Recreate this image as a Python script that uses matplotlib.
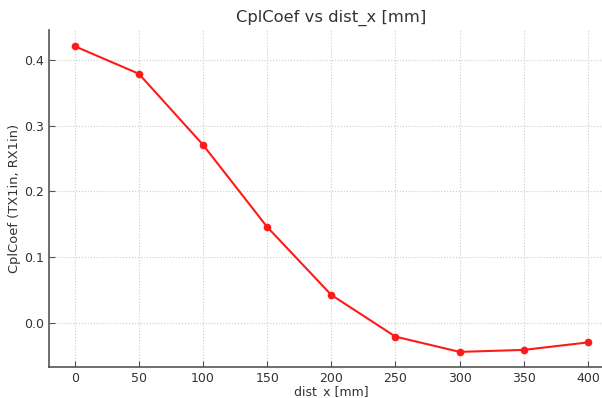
import matplotlib
matplotlib.use("Agg")
import matplotlib.pyplot as plt

dist_x = [0, 50, 100, 150, 200, 250, 300, 350, 400]
cpl_coef = [0.421, 0.379, 0.271, 0.146, 0.0426, -0.0208, -0.044, -0.041, -0.0296]

txt = "#333333"
fig = plt.figure(figsize=(6.02, 3.98), dpi=100)
ax = fig.add_axes([49/602, 1-367/398, (613.6-49)/602, (367-30)/398])
ax.plot(dist_x, cpl_coef, color="#ff1a1a", marker="o", markersize=4.5, linewidth=1.5)
ax.set_title("CplCoef vs dist_x [mm]", fontsize=11.8, color=txt, pad=6)
ax.set_xlabel("dist_x [mm]", fontsize=9, color=txt, labelpad=0)
ax.set_ylabel("CplCoef (TX1in, RX1in)", fontsize=9.4, color=txt, labelpad=2)
ax.grid(True, linestyle=":", color="#cccccc", linewidth=0.8)
ax.spines["top"].set_visible(False)
ax.spines["right"].set_visible(False)
for s in ("left", "bottom"):
    ax.spines[s].set_color("#555555")
    ax.spines[s].set_linewidth(1.2)
ax.tick_params(direction="in", colors="#555555", labelcolor=txt, labelsize=9, length=4)
ax.set_xticks(dist_x)
ax.set_yticks([0.0, 0.1, 0.2, 0.3, 0.4])
ax.set_xlim(-20, 420)
ax.set_ylim(-0.067, 0.4456)
fig.savefig("out.png", dpi=100)
